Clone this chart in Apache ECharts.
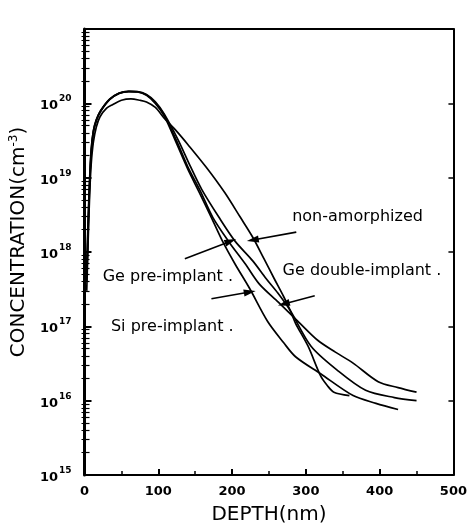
<!DOCTYPE html>
<html><head><meta charset="utf-8">
<script src="https://cdn.jsdelivr.net/npm/echarts@6/dist/echarts.min.js"></script>
<style>html,body{margin:0;padding:0;background:#fff}#c{width:470px;height:530px}</style>
</head><body><div id="c"></div>
<script>
// depth (nm), concentration (cm^-3)
const siPreImplant = [[3,4e17],[5,2e18],[7,8e18],[9,2e19],[12,4e19],[16,5.8e19],[22,7.8e19],[34,1.12e20],[47,1.36e20],[60,1.44e20],[72,1.42e20],[84,1.28e20],[96,1.0e20],[108,6.8e19],[124,3.0e19],[140,1.3e19],[155,6.5e18],[172,2.9e18],[187,1.4e18],[204,6.9e17],[224,3.2e17],[248,1.17e17],[270,6.0e16],[286,3.9e16],[320,2.3e16],[364,1.17e16],[395,9.2e15],[425,7.6e15]];
const gePreImplant = [[3,6e17],[5,3e18],[7,1e19],[9,2.4e19],[12,4.3e19],[16,6e19],[22,8e19],[34,1.14e20],[47,1.38e20],[60,1.45e20],[72,1.43e20],[84,1.3e20],[96,1.02e20],[108,7e19],[125,3.1e19],[140,1.4e19],[157,6.6e18],[174,2.9e18],[195,1.4e18],[218,6.9e17],[237,3.7e17],[263,2.1e17],[290,1.15e17],[316,6.5e16],[340,4.5e16],[364,3.2e16],[398,1.8e16],[425,1.5e16],[450,1.3e16]];
const geDoubleImplant = [[3,5e17],[5,2.5e18],[7,9e18],[9,2.2e19],[12,4.2e19],[16,6e19],[22,8e19],[34,1.13e20],[47,1.37e20],[60,1.45e20],[72,1.44e20],[84,1.32e20],[96,1.05e20],[108,7.2e19],[127,3.2e19],[143,1.45e19],[159,6.9e18],[182,2.95e18],[204,1.4e18],[228,7.6e17],[246,4.4e17],[262,2.8e17],[279,1.62e17],[307,5.4e16],[342,2.6e16],[381,1.38e16],[420,1.1e16],[450,1.0e16]];
const nonAmorphized = [[3,3e17],[5,1.5e18],[7,6e18],[9,1.5e19],[12,3e19],[16,4.8e19],[21,6.6e19],[30,8.6e19],[38,9.6e19],[50,1.1e20],[63,1.15e20],[75,1.1e20],[84,1.04e20],[96,8.8e19],[108,6.3e19],[125,4.2e19],[140,2.8e19],[165,1.38e19],[190,6.3e18],[211,2.95e18],[228,1.58e18],[243,8.2e17],[257,4.4e17],[270,2.5e17],[279,1.62e17],[286,1.1e17],[303,5.4e16],[320,2.15e16],[329,1.6e16],[338,1.3e16],[359,1.17e16]];

const xTicks = [0,100,200,300,400,500];
const yDecades = [1e15,1e16,1e17,1e18,1e19,1e20,1e21];

const labelTexts = ['non-amorphized','Ge double-implant .','Ge pre-implant .','Si pre-implant .'];
const labelPos = [[370,3.0e18],[376,5.6e17],[113,4.6e17],[119,9.9e16]];
// arrows: [tail, head]
const arrows = [
  [[287,1.85e18],[228,1.45e18]],
  [[312,2.58e17],[270,2.0e17]],
  [[136,8.1e17],[198,1.4e18]],
  [[172,2.35e17],[224,2.9e17]]
];

const minorVals = [];
for (let k = 15; k < 21; k++) for (let m = 2; m <= 9; m++) minorVals.push(m * Math.pow(10, k));

const black = '#000';
const chart = echarts.init(document.getElementById('c'), null, {renderer:'canvas'});
const lineSeries = (name, data) => ({
  name, type:'line', data, xAxisIndex:0, yAxisIndex:0, showSymbol:false, symbol:'none',
  smooth:0.3, lineStyle:{color:black, width:1.7}, silent:true, z:3
});
const logAxisBase = {type:'log', logBase:10, min:1e15, max:1e21, splitLine:{show:false}, minorTick:{show:false}};
const option = {
  animation:false,
  backgroundColor:'#fff',
  grid:{left:80, right:9, top:29, bottom:53},
  xAxis:[
    {type:'value', min:0, max:500, interval:100, position:'bottom',
     axisLine:{show:true, lineStyle:{color:black, width:2}},
     axisTick:{show:true, inside:true, length:6, lineStyle:{color:black, width:2}},
     minorTick:{show:true, splitNumber:2, length:4, lineStyle:{color:black, width:1.5}},
     splitLine:{show:false},
     axisLabel:{color:black, fontFamily:'DejaVu Sans', fontWeight:'bold', fontSize:13, margin:10,
       customValues: xTicks},
     name:'DEPTH(nm)', nameLocation:'middle', nameGap:30,
     nameTextStyle:{color:black, fontFamily:'DejaVu Sans', fontSize:20}},
    {type:'value', min:0, max:500, position:'top',
     axisLine:{show:true, onZero:false, lineStyle:{color:black, width:2}},
     axisTick:{show:false}, axisLabel:{show:false}, splitLine:{show:false}}
  ],
  yAxis:[
    Object.assign({}, logAxisBase, {position:'left',
      axisLine:{show:true, onZero:false, lineStyle:{color:black, width:3}},
      axisTick:{show:true, inside:true, length:7, customValues:yDecades, lineStyle:{color:black, width:2}},
      axisLabel:{show:true, customValues:yDecades, margin:13,
        formatter:(v)=>'{b|10}{e|' + Math.round(Math.log10(v)) + '}',
        rich:{
          b:{fontFamily:'DejaVu Sans', fontWeight:'bold', fontSize:13, color:black, verticalAlign:'bottom'},
          e:{fontFamily:'DejaVu Sans', fontWeight:'bold', fontSize:9, color:black, verticalAlign:'bottom', padding:[0,0,9,1]}
        }},
      name:'CONCENTRATION(cm{s|-3})', nameLocation:'middle', nameGap:50,
      nameTextStyle:{color:black, fontFamily:'DejaVu Sans', fontSize:20, padding:[0,0,0,20],
        rich:{s:{fontFamily:'DejaVu Sans', fontSize:12, color:black, verticalAlign:'bottom', padding:[0,0,10,0]}}}
    }),
    Object.assign({}, logAxisBase, {position:'left', offset:0,
      axisLine:{show:false}, axisLabel:{show:false},
      axisTick:{show:true, inside:true, length:5, customValues:minorVals, lineStyle:{color:black, width:1.2}}}),
    Object.assign({}, logAxisBase, {position:'right', offset:0,
      axisLine:{show:true, onZero:false, lineStyle:{color:black, width:2}}, axisLabel:{show:false},
      axisTick:{show:true, inside:true, length:5, customValues:yDecades, lineStyle:{color:black, width:1.5}}}),
    Object.assign({}, logAxisBase, {position:'right', offset:0,
      axisLine:{show:false}, axisLabel:{show:false},
      axisTick:{show:true, inside:true, length:3, customValues:minorVals, lineStyle:{color:black, width:1}}})
  ],
  series:[
    lineSeries('Si pre-implant', siPreImplant),
    lineSeries('Ge pre-implant', gePreImplant),
    lineSeries('Ge double-implant', geDoubleImplant),
    lineSeries('non-amorphized', nonAmorphized),
    {type:'scatter', xAxisIndex:0, yAxisIndex:0, symbolSize:0, silent:true, z:4,
     itemStyle:{opacity:1, color:'#000'},
     data: labelPos.map((p,i)=>({value:p, name:labelTexts[i]})),
     label:{show:true, position:'inside', formatter:(p)=>p.name, color:'#000', opacity:1,
       fontFamily:'DejaVu Sans', fontSize:16, textBorderWidth:0},
     markLine:{silent:true, symbol:['none','triangle'], symbolSize:[7,12],
       lineStyle:{color:black, width:1.6, type:'solid', opacity:1}, label:{show:false},
       emphasis:{disabled:true},
       data: arrows.map(a=>[{coord:a[0]},{coord:a[1]}])}
    }
  ]
};
chart.setOption(option);
</script>
</body></html>
